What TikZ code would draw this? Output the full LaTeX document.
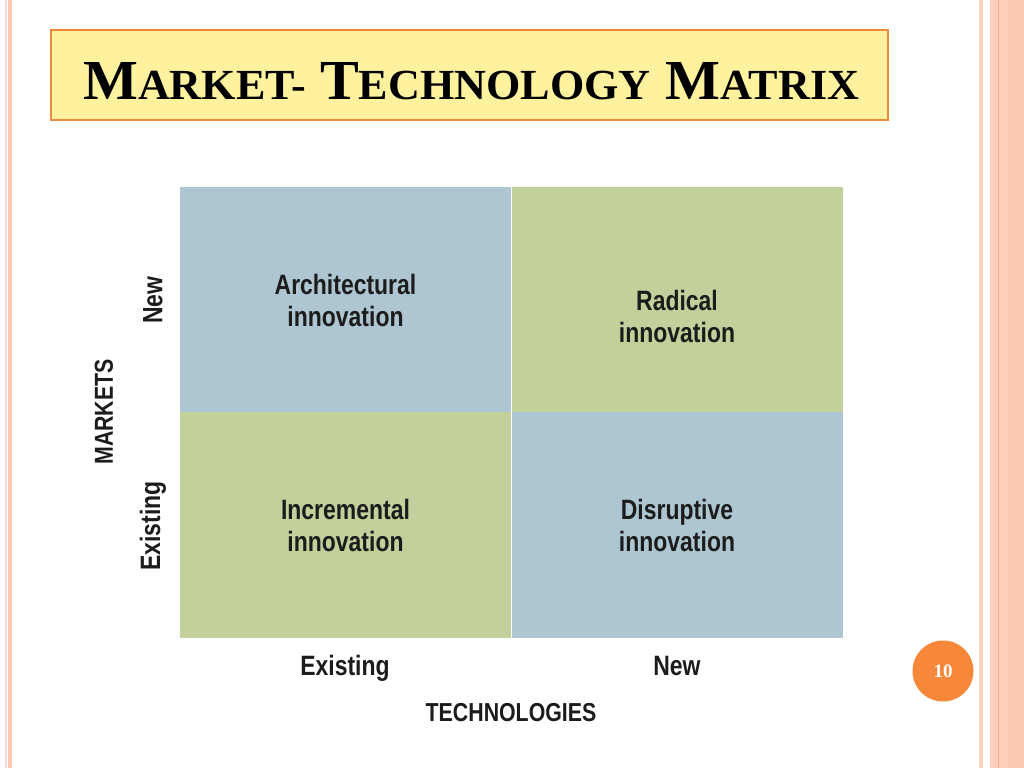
\documentclass[tikz,border=0pt]{standalone}
\usepackage{fontspec}
\usepackage{graphicx}
\newfontfamily\lsans{Liberation Sans}
\newfontfamily\lserif{Liberation Serif}
\definecolor{quadblue}{HTML}{ADC6D1}
\definecolor{quadgreen}{HTML}{C2D19B}
\definecolor{titlefill}{HTML}{FEF29E}
\definecolor{titleedge}{HTML}{F08A3E}
\definecolor{stripe}{HTML}{FCC8B2}
\definecolor{stripedark}{HTML}{F6AE8E}
\definecolor{stripelight}{HTML}{F8DCCB}
\definecolor{pageorange}{HTML}{F7883A}
\definecolor{ink}{HTML}{1C1C1C}
\newcommand\lbl[1]{\scalebox{0.82}[1]{#1}}
\tikzset{
  quad/.style={inner sep=0pt, minimum width=331pt, minimum height=226pt},
  celltext/.style={font=\lsans\bfseries\fontsize{28}{32}\selectfont, text=ink, align=center, inner sep=0pt},
  axistext/.style={font=\lsans\bfseries\fontsize{28}{32}\selectfont, text=ink, inner sep=0pt},
  axistitle/.style={font=\lsans\bfseries\fontsize{26}{30}\selectfont, text=ink, inner sep=0pt}
}
\begin{document}
\begin{tikzpicture}[x=1pt,y=-1pt]
\useasboundingbox (0,0) rectangle (1024,768);
\fill[white] (0,0) rectangle (1024,768);
% side stripes
\fill[stripelight] (4.5,0) rectangle (6.5,768);
\fill[stripe] (8,0) rectangle (12,768);
\fill[stripe!80] (979,0) rectangle (983,768);
\fill[stripe!85] (990,0) rectangle (1008,768);
\fill[stripe] (1008,0) rectangle (1024,768);
\draw[stripedark, line width=0.8pt] (998,0) -- (998,768);
% title
\node[draw=titleedge, line width=1.5pt, fill=titlefill, minimum width=837pt, minimum height=90pt, inner sep=0pt] (title) at (469.5,75) {};
\node[inner sep=0pt, anchor=south west] (titletext) at (83,100) {\resizebox{776pt}{37pt}{\lserif\bfseries\fontsize{54}{54}\selectfont M{\fontsize{41}{41}\selectfont ARKET-} T{\fontsize{41}{41}\selectfont ECHNOLOGY} M{\fontsize{41}{41}\selectfont ATRIX}}};
% quadrants
\node[quad, fill=quadblue] (qA) at (345.5,300) {};
\node[quad, fill=quadgreen] (qR) at (677,300) {};
\node[quad, fill=quadgreen] (qI) at (345.5,525) {};
\node[quad, fill=quadblue] (qD) at (677,525) {};
\node[celltext] (tA) at (qA.center) {\lbl{Architectural}\\\lbl{innovation}};
\node[celltext] (tR) at ([yshift=-16pt]qR.center) {\lbl{Radical}\\\lbl{innovation}};
\node[celltext] (tI) at (qI.center) {\lbl{Incremental}\\\lbl{innovation}};
\node[celltext] (tD) at (qD.center) {\lbl{Disruptive}\\\lbl{innovation}};
% axes labels
\node[axistext, rotate=90] (mnew) at (153,300) {\lbl{New}};
\node[axistext, rotate=90] (mexist) at (153,526) {\lbl{Existing}};
\node[axistitle, rotate=90] (markets) at (104,412) {\lbl{MARKETS}};
\node[axistext, anchor=base] (texist) at (345,675) {\lbl{Existing}};
\node[axistext, anchor=base] (tnew) at (677,675) {\lbl{New}};
\node[axistitle, anchor=base] (tech) at (511,721) {\lbl{TECHNOLOGIES}};
% page number
\node[circle, fill=pageorange, minimum size=61pt, inner sep=0pt, text=white, font=\lserif\bfseries\fontsize{19}{19}\selectfont] (page) at (943,671) {10};
\end{tikzpicture}
\end{document}
